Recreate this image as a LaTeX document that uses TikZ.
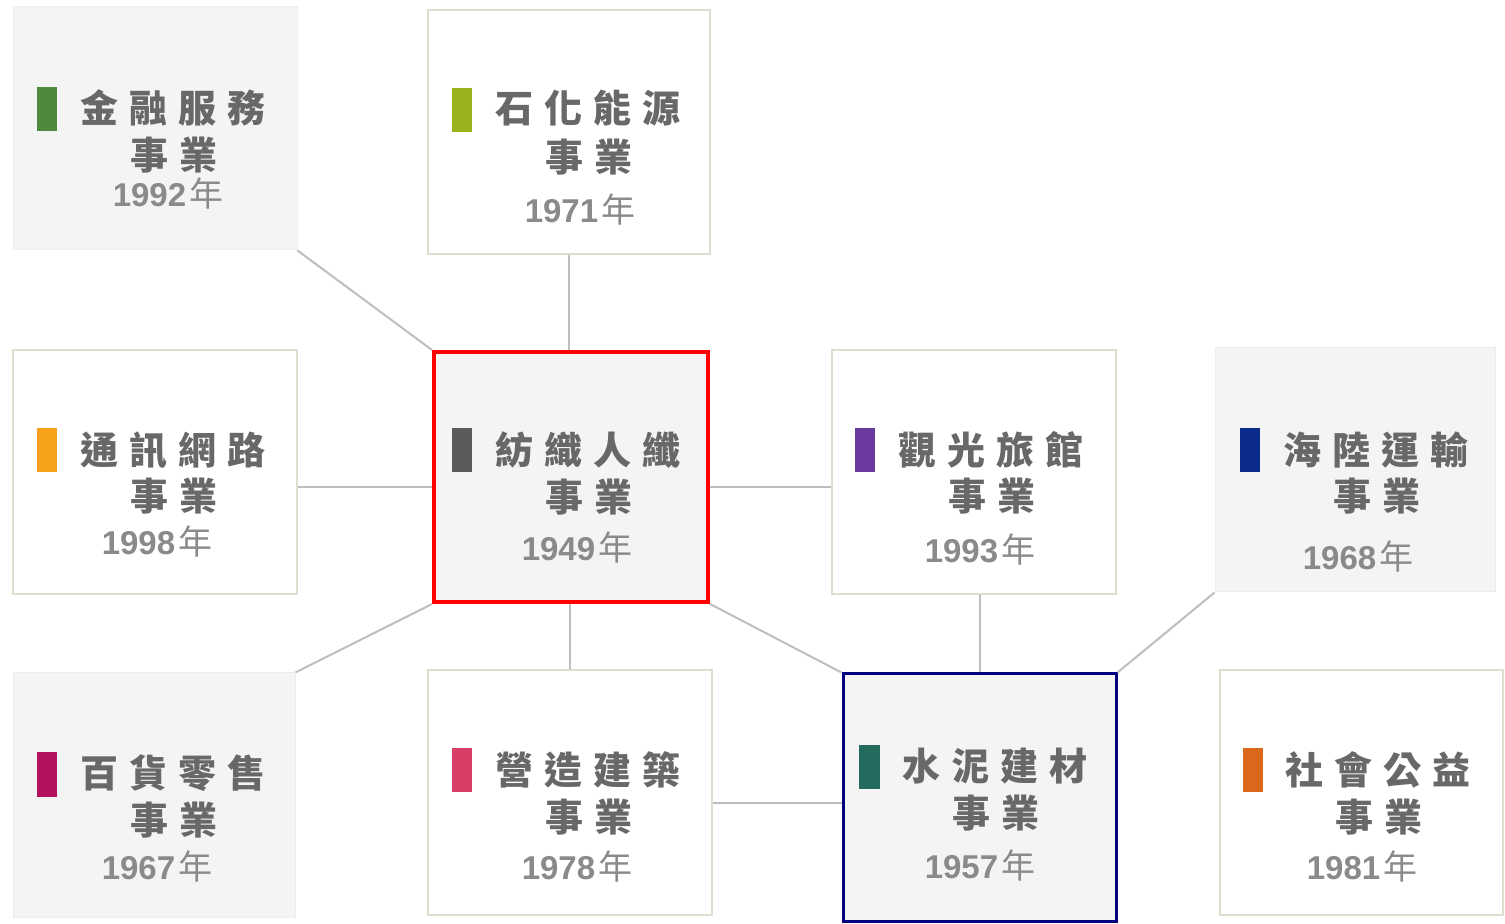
\documentclass[tikz,border=0pt]{standalone}
\usepackage{fontspec}
\setmainfont{Liberation Sans}
\newfontfamily\cjk{Noto Sans CJK TC}
\usetikzlibrary{fit}
\definecolor{boxfill}{HTML}{F4F4F4}
\definecolor{boxline}{HTML}{ECECEC}
\definecolor{beige}{HTML}{DEDED0}
\definecolor{linkgray}{HTML}{BEBEBE}
\definecolor{titlegray}{HTML}{686868}
\definecolor{yeargray}{HTML}{8A8A8A}
\definecolor{cgreen}{HTML}{4E8A3E}
\definecolor{cygreen}{HTML}{9BB21C}
\definecolor{corange}{HTML}{F7A11A}
\definecolor{cdgray}{HTML}{5A5A5A}
\definecolor{cpurple}{HTML}{6B3A9E}
\definecolor{cnavy}{HTML}{0B2B8C}
\definecolor{cmagenta}{HTML}{B3125E}
\definecolor{cpink}{HTML}{D93E66}
\definecolor{cteal}{HTML}{236B5F}
\definecolor{cbrown}{HTML}{D9681A}
\definecolor{hired}{HTML}{FF0000}
\definecolor{hinavy}{HTML}{000080}
\newcommand\chgap{\hspace{5.5pt}}
\newcommand\ttl[4]{#1\chgap#2\chgap#3\chgap#4}
\newcommand\yr[1]{#1\hspace{1.5pt}{\mdseries\cjk\fontsize{17}{17}\selectfont 年}}
\tikzset{
  boxgray/.style={fill=boxfill, draw=boxline, line width=0.5pt, inner sep=0pt},
  boxwhite/.style={fill=white, draw=beige, line width=1pt, inner sep=0pt},
  titletxt/.style={text=titlegray, font=\cjk\bfseries\fontsize{19}{19}\selectfont, inner sep=0pt, anchor=west},
  subtxt/.style={text=titlegray, font=\cjk\bfseries\fontsize{19}{19}\selectfont, inner sep=0pt},
  yeartxt/.style={text=yeargray, font=\bfseries\fontsize{16.5}{16.5}\selectfont, inner sep=0pt},
  link/.style={draw=linkgray, line width=1pt},
}
\begin{document}
\begin{tikzpicture}[x=0.5pt,y=-0.5pt]
\useasboundingbox (0,0) rectangle (1505,924);
\fill[white] (0,0) rectangle (1505,924);
% helper lines
\coordinate (h1) at (0,487);
\coordinate (h2) at (0,803);
% boxes
\node[boxgray, fit={(13,7) (297,250)}] (b1) {};
\node[boxwhite, fit={(428,10) (710,254)}] (b2) {};
\node[boxwhite, fit={(13,350) (297,594)}] (b3) {};
\node[boxgray, fit={(1215,348) (1495,592)}] (b6) {};
\node[boxwhite, fit={(832,350) (1116,594)}] (b5) {};
\node[boxgray, fit={(13,673) (295,917)}] (b7) {};
\node[boxwhite, fit={(428,670) (712,915)}] (b8) {};
\node[boxwhite, fit={(1220,670) (1503,915)}] (b10) {};
\node[boxgray, draw=hired, line width=2pt, fit={(434,352) (708,602)}] (b4) {};
\node[boxgray, draw=hinavy, line width=1.5pt, fit={(843,674) (1116,921)}] (b9) {};
% connectors
\draw[link] (b1.south east) -- (b4.north west);
\draw[link] (b2.south) -- (b2.south |- b4.north);
\draw[link] (b3.east |- h1) -- (b4.west |- h1);
\draw[link] (b4.east |- h1) -- (b5.west |- h1);
\draw[link] (b4.south west) -- (b7.north east);
\draw[link] (b8.north) -- (b8.north |- b4.south);
\draw[link] (b4.south east) -- (b9.north west);
\draw[link] (b9.north |- b5.south) -- (b9.north);
\draw[link] (b6.south west) -- (b9.north east);
\draw[link] (b8.east |- h2) -- (b9.west |- h2);
% b1
\fill[cgreen] (37,87) rectangle (57,131);
\node[titletxt] (t1) at (80,108) {\ttl{金}{融}{服}{務}};
\node[subtxt] (s1) at (174,155) {事\chgap 業};
\node[yeartxt] (y1) at (168,194) {\yr{1992}};
% b2
\fill[cygreen] (452,88) rectangle (472,132);
\node[titletxt] (t2) at (495,108) {\ttl{石}{化}{能}{源}};
\node[subtxt] (s2) at (589,157) {事\chgap 業};
\node[yeartxt] (y2) at (580,210) {\yr{1971}};
% b3
\fill[corange] (37,428) rectangle (57,472);
\node[titletxt] (t3) at (80,450) {\ttl{通}{訊}{網}{路}};
\node[subtxt] (s3) at (174,496) {事\chgap 業};
\node[yeartxt] (y3) at (157,542) {\yr{1998}};
% b4
\fill[cdgray] (452,428) rectangle (472,472);
\node[titletxt] (t4) at (495,450) {\ttl{紡}{織}{人}{纖}};
\node[subtxt] (s4) at (589,497) {事\chgap 業};
\node[yeartxt] (y4) at (577,548) {\yr{1949}};
% b5
\fill[cpurple] (855,428) rectangle (875,472);
\node[titletxt] (t5) at (898,450) {\ttl{觀}{光}{旅}{館}};
\node[subtxt] (s5) at (992,496) {事\chgap 業};
\node[yeartxt] (y5) at (980,550) {\yr{1993}};
% b6
\fill[cnavy] (1240,428) rectangle (1260,472);
\node[titletxt] (t6) at (1283,450) {\ttl{海}{陸}{運}{輸}};
\node[subtxt] (s6) at (1377,496) {事\chgap 業};
\node[yeartxt] (y6) at (1358,557) {\yr{1968}};
% b7
\fill[cmagenta] (37,752) rectangle (57,797);
\node[titletxt] (t7) at (80,773) {\ttl{百}{貨}{零}{售}};
\node[subtxt] (s7) at (174,820) {事\chgap 業};
\node[yeartxt] (y7) at (157,867) {\yr{1967}};
% b8
\fill[cpink] (452,748) rectangle (472,792);
\node[titletxt] (t8) at (495,770) {\ttl{營}{造}{建}{築}};
\node[subtxt] (s8) at (589,817) {事\chgap 業};
\node[yeartxt] (y8) at (577,867) {\yr{1978}};
% b9
\fill[cteal] (859,745) rectangle (880,789);
\node[titletxt] (t9) at (902,766) {\ttl{水}{泥}{建}{材}};
\node[subtxt] (s9) at (996,813) {事\chgap 業};
\node[yeartxt] (y9) at (980,866) {\yr{1957}};
% b10
\fill[cbrown] (1243,748) rectangle (1263,792);
\node[titletxt] (t10) at (1285,770) {\ttl{社}{會}{公}{益}};
\node[subtxt] (s10) at (1379,817) {事\chgap 業};
\node[yeartxt] (y10) at (1362,867) {\yr{1981}};
\end{tikzpicture}
\end{document}
